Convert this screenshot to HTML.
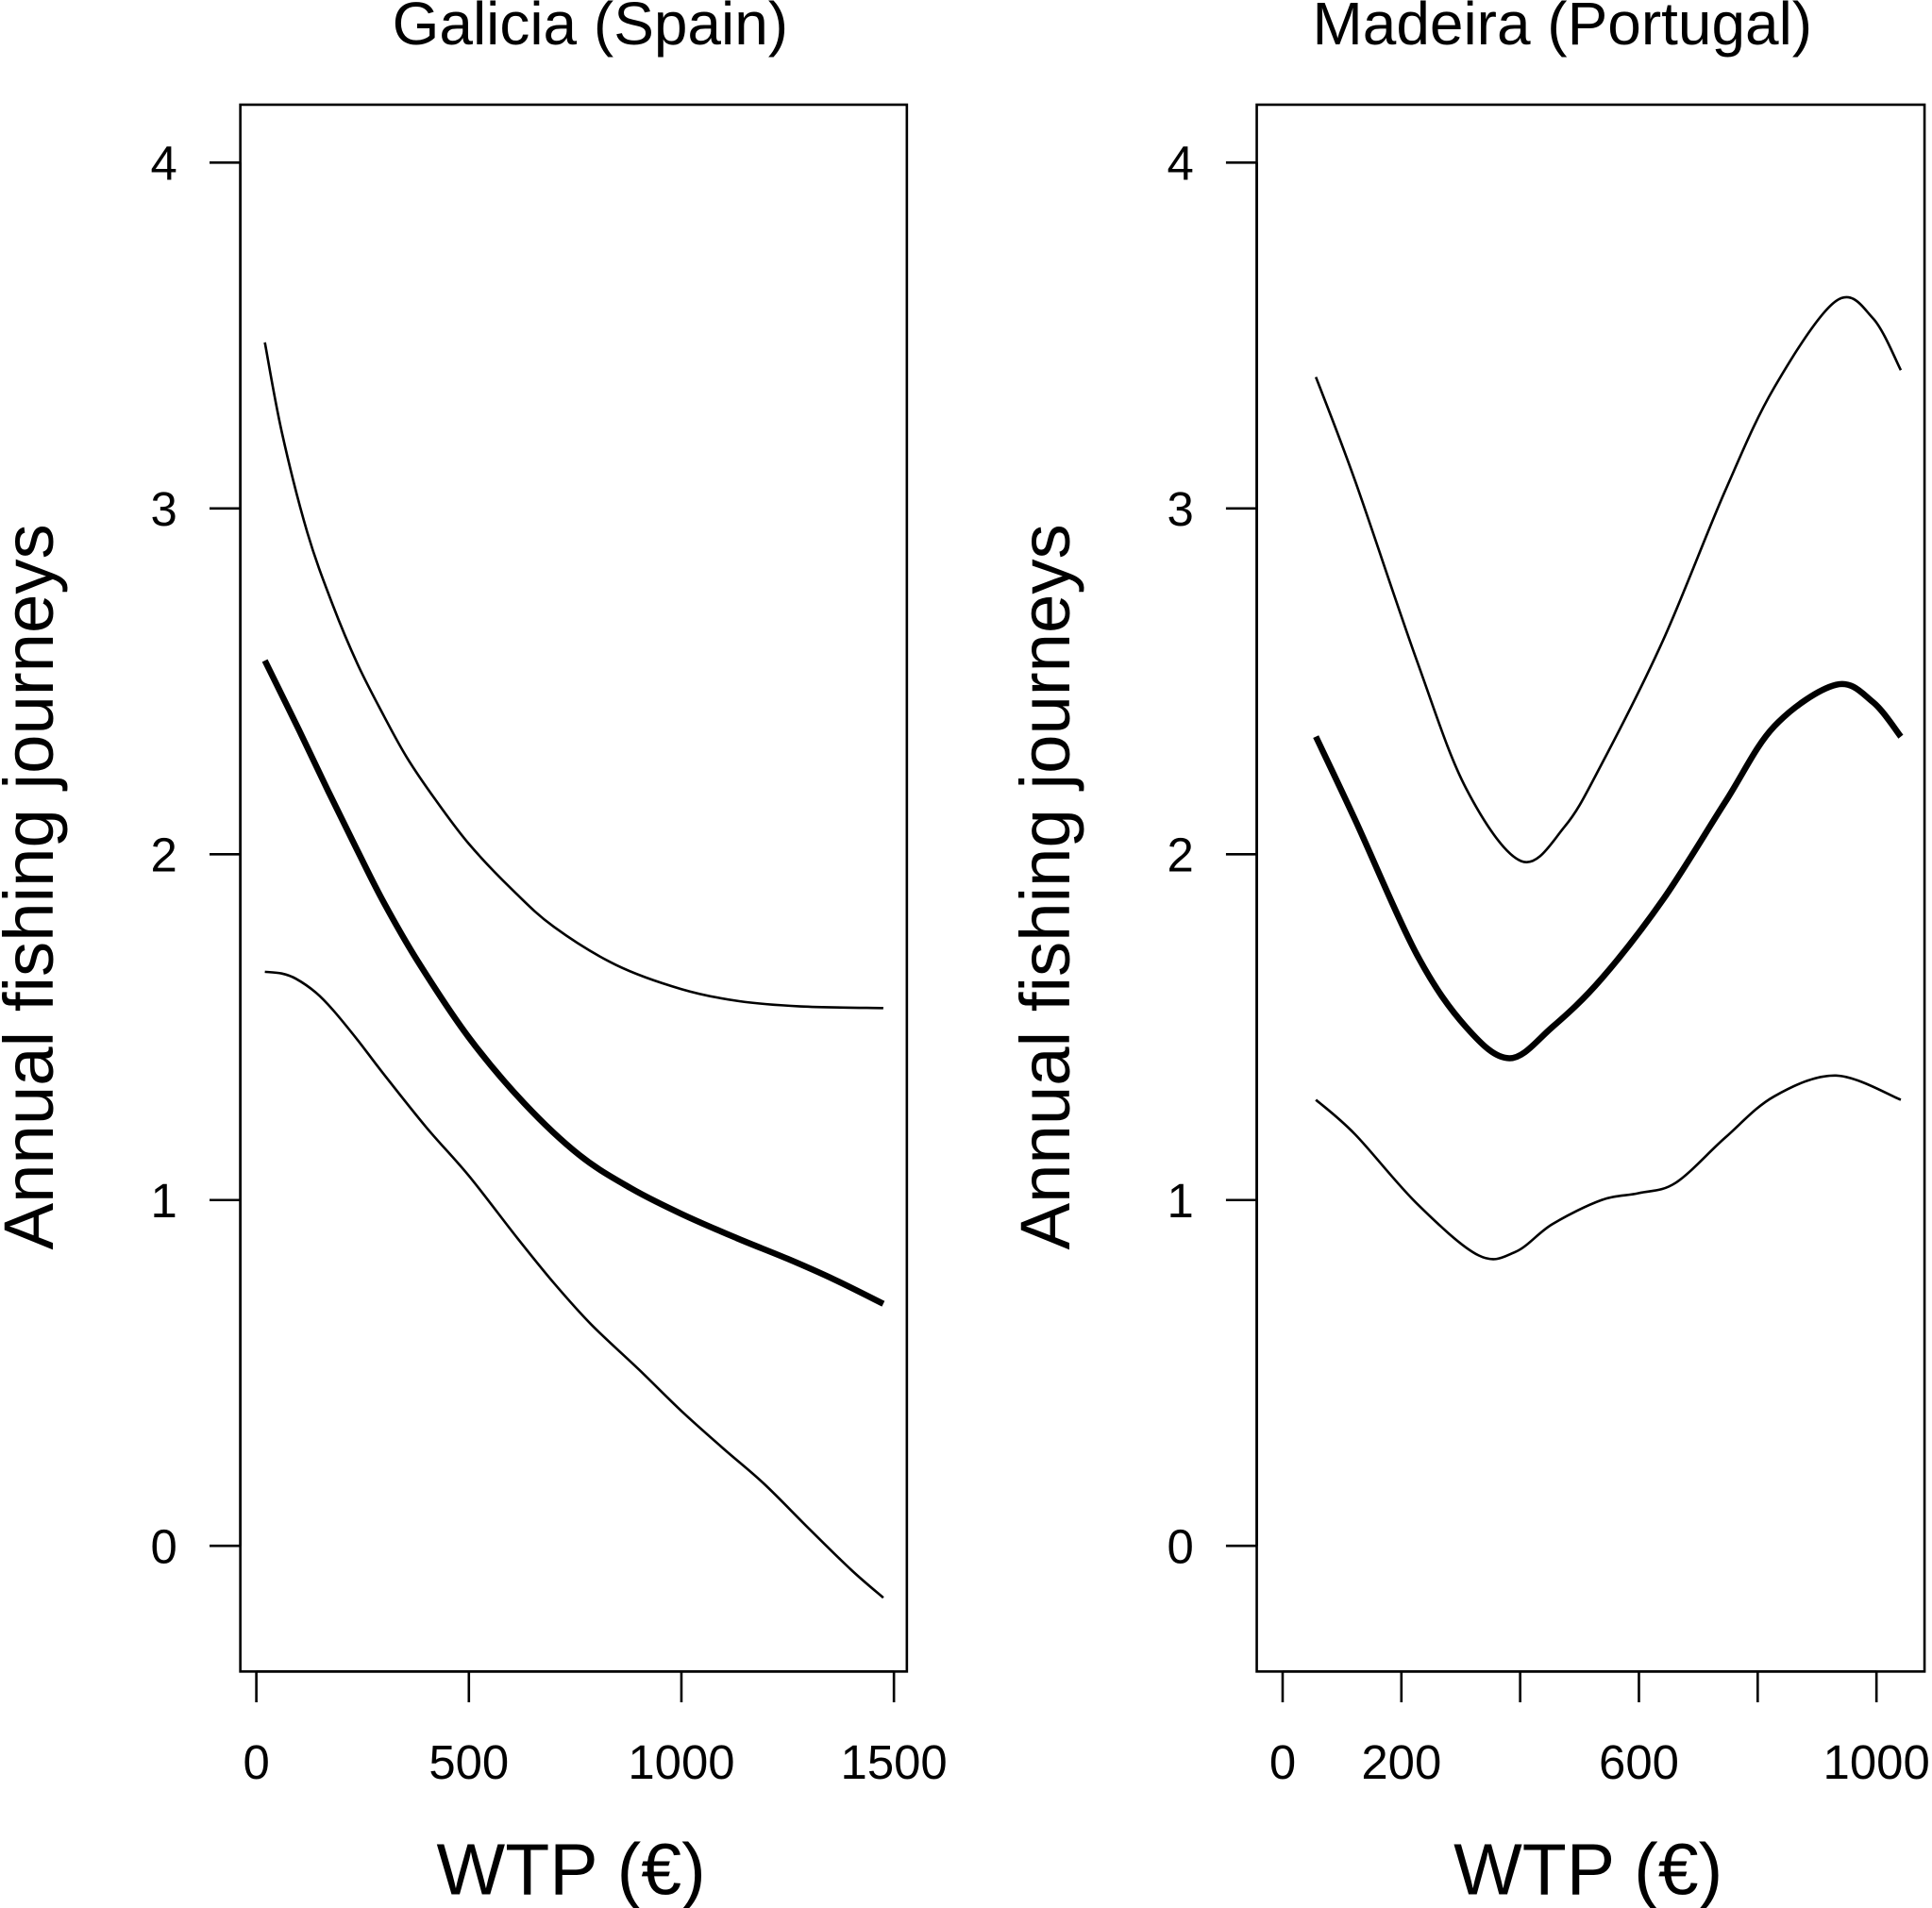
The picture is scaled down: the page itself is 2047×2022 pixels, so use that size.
<!DOCTYPE html>
<html><head><meta charset="utf-8">
<style>
html,body{margin:0;padding:0;background:#fff;}
svg{display:block;}
text{font-family:"Liberation Sans",Arial,sans-serif;fill:#000;}
</style></head>
<body>
<svg id="chart" width="2047" height="2022" viewBox="0 0 1568 1549" xmlns="http://www.w3.org/2000/svg"></svg>
<script>
// Galicia data
const galMeanX = [20, 100, 170, 238, 300, 380, 500, 630, 760, 880, 1000, 1130, 1250, 1360, 1475];
const galMean = [2.56, 2.36, 2.18, 2.01, 1.86, 1.69, 1.47, 1.28, 1.13, 1.035, 0.96, 0.89, 0.83, 0.77, 0.70];
const galUpperX = [20, 60, 120, 180, 238, 300, 354, 420, 500, 600, 700, 846, 1000, 1136, 1281, 1475];
const galUpper = [3.48, 3.22, 2.93, 2.72, 2.55, 2.40, 2.28, 2.16, 2.03, 1.90, 1.79, 1.68, 1.61, 1.575, 1.56, 1.555];
const galLowerX = [20, 60, 93, 140, 180, 240, 296, 400, 500, 614, 700, 788, 900, 1000, 1100, 1194, 1300, 1400, 1475];
const galLower = [1.66, 1.655, 1.64, 1.60, 1.55, 1.46, 1.37, 1.21, 1.07, 0.89, 0.76, 0.64, 0.51, 0.39, 0.28, 0.18, 0.05, -0.07, -0.15];
const galXTicks = [0, 500, 1000, 1500];
// Madeira data
const madX = [56, 122, 226, 309, 382, 454, 537, 641, 745, 828, 932, 994, 1041];
const madMean = [2.34, 2.10, 1.71, 1.50, 1.41, 1.50, 1.64, 1.87, 2.15, 2.37, 2.49, 2.44, 2.34];
const madUpperX = [56, 122, 226, 309, 402, 475, 537, 641, 745, 828, 932, 994, 1041];
const madUpper = [3.38, 3.08, 2.56, 2.19, 1.98, 2.08, 2.26, 2.62, 3.05, 3.35, 3.60, 3.55, 3.40];
const madLowerX = [56, 122, 226, 330, 392, 454, 537, 600, 662, 745, 828, 932, 1041];
const madLower = [1.29, 1.19, 0.99, 0.84, 0.85, 0.93, 1.00, 1.02, 1.05, 1.18, 1.30, 1.36, 1.29];
const madXTicks = [0, 200, 400, 600, 800, 1000];
const madXLabels = ["0", "200", "", "600", "", "1000"];
const yTicks = [0, 1, 2, 3, 4];

const NS = "http://www.w3.org/2000/svg";
const svg = document.getElementById('chart');
function el(tag, attrs, parent){const e=document.createElementNS(NS,tag);for(const k in attrs)e.setAttribute(k,attrs[k]);(parent||svg).appendChild(e);return e;}
const yScale = v => 1255 - v*280.75;

function smoothPath(pts){
  let d = `M${pts[0][0]},${pts[0][1]}`;
  for(let i=0;i<pts.length-1;i++){
    const p0=pts[Math.max(0,i-1)],p1=pts[i],p2=pts[i+1],p3=pts[Math.min(pts.length-1,i+2)];
    const c1=[p1[0]+(p2[0]-p0[0])/6,p1[1]+(p2[1]-p0[1])/6];
    const c2=[p2[0]-(p3[0]-p1[0])/6,p2[1]-(p3[1]-p1[1])/6];
    d+=` C${c1[0]},${c1[1]} ${c2[0]},${c2[1]} ${p2[0]},${p2[1]}`;
  }
  return d;
}

function panel(cfg){
  const g = el('g',{});
  
  
  const xs = v => cfg.x0 + v*cfg.kx;
  const box = el('rect',{x:cfg.left,y:85,width:cfg.right-cfg.left,height:1272,fill:'none',stroke:'#000','stroke-width':2},g);
  
  
  const t = el('text',{x:cfg.titleX,y:36,'text-anchor':'middle','font-size':49},g);
  t.textContent = cfg.title;
  
  
  el('line',{x1:cfg.left,x2:cfg.left,y1:yScale(4),y2:yScale(0),stroke:'#000','stroke-width':2},g);
  yTicks.forEach(v=>{
    el('line',{x1:cfg.left-25,x2:cfg.left,y1:yScale(v),y2:yScale(v),stroke:'#000','stroke-width':2},g);
    const l = el('text',{x:cfg.left-62,y:yScale(v)+14,'text-anchor':'middle','font-size':39},g);
    l.textContent = v;
    
    
  });
  const yt = el('text',{x:0,y:0,'text-anchor':'middle','font-size':57,transform:`translate(${cfg.left-152},720) rotate(-90)`},g);
  yt.textContent = 'Annual fishing journeys';
  
  
  el('line',{x1:xs(cfg.xTicks[0]),x2:xs(cfg.xTicks[cfg.xTicks.length-1]),y1:1357,y2:1357,stroke:'#000','stroke-width':2},g);
  cfg.xTicks.forEach((v,i)=>{
    el('line',{x1:xs(v),x2:xs(v),y1:1357,y2:1382,stroke:'#000','stroke-width':2},g);
    const l = el('text',{x:xs(v),y:1444,'text-anchor':'middle','font-size':39},g);
    l.textContent = cfg.xLabels[i];
    
    
  });
  const xt = el('text',{x:(cfg.left+cfg.right)/2-2,y:1538,'text-anchor':'middle','font-size':59},g);
  xt.textContent = 'WTP (€)';
  
  
  cfg.series.forEach(s=>{
    const pts = s.x.map((xv,i)=>[xs(xv), yScale(s.y[i])]);
    const p = el('path',{d:smoothPath(pts),fill:'none',stroke:'#000','stroke-width':s.w,'stroke-linejoin':'round'},g);
    
    
  });
}

panel({name:'galicia-panel',title:'Galicia (Spain)',titleX:479,left:195,right:736,x0:208,kx:0.345,
  xTicks:galXTicks,xLabels:galXTicks.map(String),
  series:[{name:'upper-bound-line',x:galUpperX,y:galUpper,w:2},
          {name:'mean-line',x:galMeanX,y:galMean,w:5},
          {name:'lower-bound-line',x:galLowerX,y:galLower,w:2}]});
panel({name:'madeira-panel',title:'Madeira (Portugal)',titleX:1268,left:1020,right:1562,x0:1041,kx:0.482,
  xTicks:madXTicks,xLabels:madXLabels,
  series:[{name:'upper-bound-line',x:madUpperX,y:madUpper,w:2},
          {name:'mean-line',x:madX,y:madMean,w:5},
          {name:'lower-bound-line',x:madLowerX,y:madLower,w:2}]});
</script>
</body></html>
